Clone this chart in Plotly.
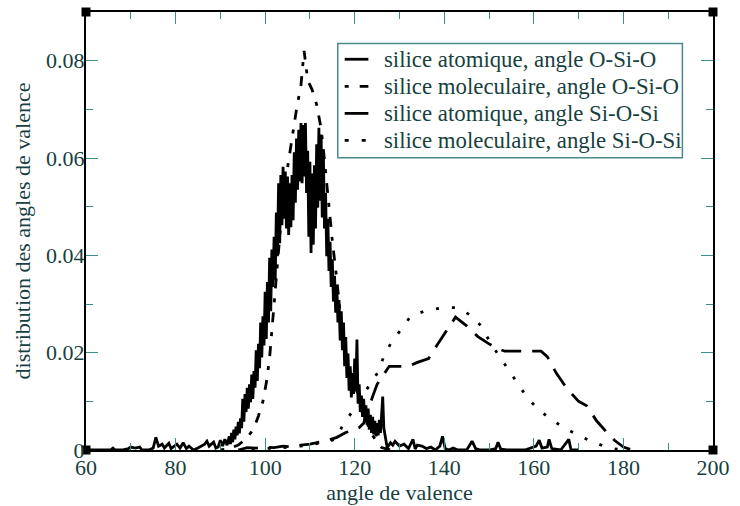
import plotly.graph_objects as go

# Bond-angle distributions (degrees vs. normalised frequency)

# silice atomique, angle O-Si-O
osio_atom_x = [60, 62, 64, 65.5, 66, 66.5, 68, 69.5, 70, 71, 72, 72.5, 74, 75, 75.6, 76.2, 77, 77.5,
               78.5, 79, 80.3, 81, 81.7, 82.4, 83, 84, 85, 86.5, 87, 87.5, 88.5, 89, 89.5, 90, 90.5,
               91, 91.5,
               92.0, 92.25, 92.5, 92.75, 93.0, 93.25, 93.5, 93.75, 94.0, 94.25, 94.5, 94.75,
               95.0, 95.25, 95.5, 95.75, 96.0, 96.25, 96.5, 96.75, 97.0, 97.25, 97.5, 97.75,
               98.0, 98.25, 98.5, 98.75, 99.0, 99.25, 99.5, 99.75, 100.0, 100.25, 100.5, 100.75,
               101.0, 101.25, 101.5, 101.75, 102.0, 102.25, 102.5, 102.75, 103.0, 103.25, 103.5, 103.75,
               104.0, 104.25, 104.5, 104.75, 105.0, 105.25, 105.5, 105.75, 106.0, 106.25, 106.5, 106.75,
               107.0, 107.25, 107.5, 107.75, 108.0, 108.25, 108.5, 108.75, 109.0, 109.25, 109.5, 109.75,
               110.0, 110.25, 110.5, 110.75, 111.0, 111.25, 111.5, 111.75, 112.0, 112.25, 112.5, 112.75,
               113.0, 113.25, 113.5, 113.75, 114.0, 114.25, 114.5, 114.75, 115.0, 115.25, 115.5, 115.75,
               116.0, 116.25, 116.5, 116.75, 117.0, 117.25, 117.5, 117.75, 118.0, 118.25, 118.5, 118.75,
               119.0, 119.25, 119.5, 119.75, 120.0, 120.25, 120.5, 120.75, 121.0, 121.25, 121.5, 121.75,
               122.0, 122.25, 122.5, 122.75, 123.0, 123.25, 123.5, 123.75, 124.0, 124.25, 124.5, 124.75,
               125.0, 125.25, 125.5, 125.75, 126.0, 126.25, 126.5, 126.75, 127.0, 127.25, 127.5,
               128, 128.5, 129, 130, 131, 132, 133, 133.5, 134, 135, 136, 137, 138, 139,
               139.6, 140.2, 141, 142, 143, 145, 146.2, 147, 148, 150, 151.5, 152, 152.6, 154, 156,
               158, 160.5, 161.2, 161.8, 163, 163.4, 164, 166, 167.8, 168.3, 170]
osio_atom_y = [0, 0, 0, 0, 0.0004, 0, 0, 0.0003, 0.0006, 0.0004, 0.0006, 0, 0, 0.0004, 0.0026, 0.0008,
               0.0012, 0.0004, 0.0014, 0.0003, 0.0012, 0.0004, 0.0015, 0.0003, 0.0008, 0, 0.0004,
               0.0012, 0.0018, 0.0008, 0.0016, 0.0004, 0.0006, 0.002, 0.0008, 0.0022, 0.001,
               0.0028, 0.0012, 0.0035, 0.0016, 0.0042, 0.0022, 0.0048, 0.003, 0.0058, 0.0034, 0.0065, 0.0045,
               0.0105, 0.0058, 0.0115, 0.0078, 0.0128, 0.0085, 0.0135, 0.0098, 0.0155, 0.0105, 0.0162, 0.0128,
               0.0205, 0.0142, 0.0218, 0.0168, 0.0262, 0.019, 0.0275, 0.0215, 0.0325, 0.0228, 0.0345, 0.0262,
               0.0395, 0.0285, 0.0412, 0.0335, 0.0438, 0.035, 0.0488, 0.0398, 0.0548, 0.0425, 0.0565, 0.0462,
               0.0582, 0.0475, 0.0572, 0.0455, 0.0562, 0.0442, 0.0548, 0.0458, 0.0565, 0.0472, 0.0612, 0.0508,
               0.064, 0.0535, 0.0658, 0.0552, 0.0672, 0.0548, 0.0668, 0.0562, 0.0672, 0.0528, 0.0615, 0.0438,
               0.0592, 0.0405, 0.0568, 0.0422, 0.0585, 0.0455, 0.0628, 0.0498, 0.0662, 0.0512, 0.0648, 0.0478,
               0.0615, 0.0455, 0.0528, 0.0398, 0.0475, 0.0368, 0.0428, 0.0335, 0.0392, 0.0305, 0.0358, 0.0282,
               0.0338, 0.0262, 0.0308, 0.0225, 0.0285, 0.0205, 0.0262, 0.0172, 0.0232, 0.0148, 0.0198, 0.0122,
               0.0172, 0.0108, 0.0158, 0.0115, 0.0188, 0.0128, 0.0227, 0.0095, 0.0135, 0.0078, 0.0112, 0.0068,
               0.0105, 0.0058, 0.0092, 0.0052, 0.0085, 0.0042, 0.0072, 0.0035, 0.0068, 0.0032, 0.006, 0.0028,
               0.0055, 0.003, 0.0062, 0.0035, 0.0082, 0.011, 0.0045, 0.0028, 0.0018, 0.0005, 0.0008,
               0.0015, 0.001, 0.0018, 0.0008, 0.0012, 0.0003, 0.0022, 0.0002, 0.001, 0.0008, 0.0003, 0.0006,
               0, 0.0008, 0.0028, 0.0003, 0, 0.0004, 0, 0, 0.0018, 0.0003, 0, 0, 0.0003, 0.0016,
               0.0002, 0, 0, 0, 0.0008, 0.002, 0.0004, 0.0006, 0.0022, 0.0003, 0, 0.0022, 0, 0]

# silice moleculaire, angle O-Si-O
osio_mol_x = [90, 92, 94, 96, 97.5, 98.5, 99.5, 100.3, 101, 102, 103, 104, 105, 106, 107, 108, 108.7,
              109.5, 110.5, 111.5, 112.5, 113.2, 114, 115, 116, 117, 118, 119, 120, 121, 122, 123,
              124, 125, 126, 128, 130]
osio_mol_y = [0, 0.0003, 0.001, 0.0025, 0.0045, 0.007, 0.01, 0.014, 0.019, 0.03, 0.042, 0.052, 0.058,
              0.064, 0.07, 0.075, 0.082, 0.076, 0.074, 0.071, 0.066, 0.06, 0.052, 0.043, 0.035,
              0.026, 0.02, 0.016, 0.013, 0.011, 0.008, 0.005, 0.003, 0.0015, 0.0005, 0, 0]

# silice atomique, angle Si-O-Si
sios_atom_x = [94, 96, 98, 100, 102, 104, 106, 108, 110, 112, 114, 116, 118, 119.5, 121, 122, 123,
               124, 125, 126.3, 127.7, 129, 132, 134, 136.5, 138, 140.5, 142.5, 145, 147.5, 150,
               151.5, 153.5, 158, 161.6, 163, 165, 167.4, 170, 171.8, 174, 176.2, 178, 180, 182]
sios_atom_y = [0, 0.0005, 0.0004, 0.0006, 0.0005, 0.0008, 0.0006, 0.001, 0.0012, 0.0016, 0.002,
               0.0026, 0.0036, 0.004, 0.0046, 0.0055, 0.0085, 0.011, 0.0135, 0.0152, 0.0172, 0.0172,
               0.0172, 0.018, 0.0188, 0.021, 0.0245, 0.0273, 0.0255, 0.0233, 0.0218, 0.021, 0.0203,
               0.0203, 0.0203, 0.0192, 0.0158, 0.0126, 0.010, 0.0091, 0.006, 0.0037, 0.002, 0.0006, 0]

# silice moleculaire, angle Si-O-Si
sios_mol_x = [97, 100, 104, 108, 111, 113, 115, 116, 117.1, 119.3, 121.3, 123.3, 125.2, 126.4, 128.1,
              130.3, 132.5, 135.8, 139.4, 141, 143.1, 146.2, 148.4, 150.3, 152.2, 154.2, 156.3,
              158.4, 160.8, 163.8, 166.9, 170, 173.3, 176.8, 180]
sios_mol_y = [0, 0.0003, 0.0005, 0.0008, 0.0012, 0.0016, 0.002, 0.0024, 0.0047, 0.0077, 0.0105,
              0.0132, 0.016, 0.019, 0.022, 0.0247, 0.0275, 0.0286, 0.0292, 0.0293, 0.0292, 0.0275,
              0.0253, 0.022, 0.0194, 0.0166, 0.0138, 0.0109, 0.0085, 0.0063, 0.0045, 0.003, 0.0016,
              0.0004, 0]

series_names = [
    "silice atomique, angle O-Si-O",
    "silice moleculaire, angle O-Si-O",
    "silice atomique, angle Si-O-Si",
    "silice moleculaire, angle Si-O-Si",
]

x_range = [60, 200]
y_range = [0, 0.09]
x_ticks = [60, 80, 100, 120, 140, 160, 180, 200]
x_ticklabels = ["60", "80", "100", "120", "140", "160", "180", "200"]
y_ticks = [0, 0.02, 0.04, 0.06, 0.08]
y_ticklabels = ["0", "0.02", "0.04", "0.06", "0.08"]

FONT = "Liberation Serif"
TEXT = "#173f3f"
TICK = "#3d8c8c"
LW = 2.8

# figure geometry (pixels)
W, H = 740, 506
ML, MR, MT, MB = 86, 19, 10, 51
PW, PH = W - ML - MR, H - MT - MB


def px_x(px):
    return (px - ML) / PW


def px_y(py):
    return (H - MB - py) / PH


dashes = ["solid", "4px,10px,10px,10px", "20px,11px", "3px,13px"]
legend_dashes = ["solid", "4px,11px,10px,10px", "solid", "4px,13px"]
xs_all = [osio_atom_x, osio_mol_x, sios_atom_x, sios_mol_x]
ys_all = [osio_atom_y, osio_mol_y, sios_atom_y, sios_mol_y]

fig = go.Figure()
for name, xs, ys, dash in zip(series_names, xs_all, ys_all, dashes):
    fig.add_trace(go.Scatter(
        x=xs, y=ys, name=name, mode="lines", showlegend=False,
        line=dict(color="black", width=LW, dash=dash),
    ))

# corner markers of the frame
fig.add_trace(go.Scatter(
    x=[x_range[0], x_range[1], x_range[0], x_range[1]],
    y=[y_range[0], y_range[0], y_range[1], y_range[1]],
    mode="markers", showlegend=False, cliponaxis=False, hoverinfo="skip",
    marker=dict(symbol="square", size=9, color="black"),
))

# legend box with line samples and labels
shapes = [dict(type="rect", xref="paper", yref="paper",
               x0=px_x(341), x1=px_x(690), y0=px_y(158), y1=px_y(42),
               line=dict(color="#4a8a8a", width=1.5), fillcolor="white", layer="above")]
annotations = []
row_y = [58, 85.5, 113, 140.5]
for name, ldash, ry in zip(series_names, legend_dashes, row_y):
    shapes.append(dict(type="line", xref="paper", yref="paper",
                       x0=px_x(348), x1=px_x(372), y0=px_y(ry), y1=px_y(ry),
                       line=dict(color="black", width=LW, dash=ldash), layer="above"))
    annotations.append(dict(xref="paper", yref="paper", x=px_x(386), y=px_y(ry),
                            xanchor="left", yanchor="middle", showarrow=False, text=name,
                            font=dict(family=FONT, size=22.8, color=TEXT)))

axis_common = dict(
    showgrid=False, zeroline=False, showline=True, linecolor="black", linewidth=2,
    mirror="allticks", ticks="inside", ticklen=12, tickwidth=1, tickcolor=TICK,
    tickfont=dict(family=FONT, size=22, color=TEXT),
)

fig.update_xaxes(
    range=x_range, tickvals=x_ticks, ticktext=x_ticklabels, ticklabelstandoff=-3,
    minor=dict(dtick=10, ticks="inside", ticklen=7, tickwidth=1, tickcolor=TICK),
    title=dict(text="angle de valence", font=dict(family=FONT, size=22, color=TEXT), standoff=0),
    **axis_common,
)
fig.update_yaxes(
    range=y_range, tickvals=y_ticks, ticktext=y_ticklabels, ticklabelstandoff=-5,
    minor=dict(dtick=0.01, ticks="inside", ticklen=7, tickwidth=1, tickcolor=TICK),
    title=dict(text="distribution des angles de valence",
               font=dict(family=FONT, size=22, color=TEXT), standoff=9),
    **axis_common,
)

fig.update_layout(
    width=W, height=H,
    margin=dict(l=ML, r=MR, t=MT, b=MB),
    paper_bgcolor="white", plot_bgcolor="white",
    font=dict(family=FONT, color=TEXT),
    shapes=shapes, annotations=annotations,
    showlegend=False,
)

fig.write_html("out.html")
